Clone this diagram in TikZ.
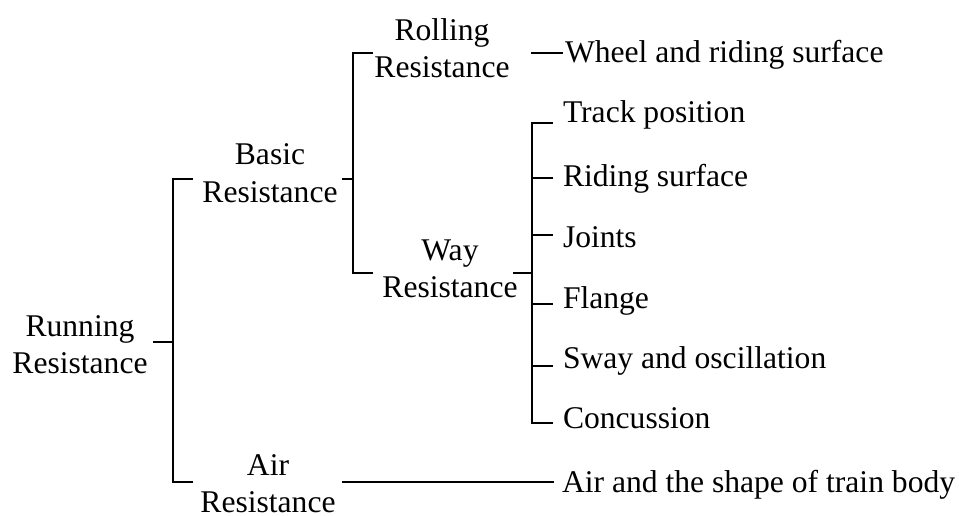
\documentclass[tikz,border=0pt]{standalone}
\usepackage{fontspec}
\setmainfont{Liberation Serif}
\begin{document}
\begin{tikzpicture}[x=1pt,y=-1pt,
  lbl/.style={inner sep=0pt, outer sep=0pt, align=center, font=\fontsize{31.6}{37}\selectfont, anchor=base},
  leaf/.style={inner sep=0pt, outer sep=0pt, font=\fontsize{31.6}{37}\selectfont, anchor=base west},
  conn/.style={line width=1.6pt, line cap=rect}]
\useasboundingbox (0,0) rectangle (959,516);
% labels (anchor base = baseline of the last line)
\node[lbl] (run) at (80,373) {Running\\Resistance};
\node[lbl] (basic) at (270,202) {Basic\\Resistance};
\node[lbl] (air) at (268,512) {Air\\Resistance};
\node[lbl] (rolling) at (442,78) {Rolling\\Resistance};
\node[lbl] (way) at (450,297) {Way\\Resistance};
\node[leaf] (wheel) at (565,63) {Wheel and riding surface};
\node[leaf] (track) at (563,123) {Track position};
\node[leaf] (riding) at (563,186) {Riding surface};
\node[leaf] (joints) at (563,247) {Joints};
\node[leaf] (flange) at (563,308) {Flange};
\node[leaf] (sway) at (563,368) {Sway and oscillation};
\node[leaf] (conc) at (563,428) {Concussion};
\node[leaf] (airbody) at (562,492) {Air and the shape of train body};
% connector points
\coordinate (runR) at (154,342);
\coordinate (b1) at (173,342);
\coordinate (b1t) at (173,179);
\coordinate (b1b) at (173,482);
\coordinate (basicL) at (192,179);
\coordinate (airL) at (192,482);
\coordinate (basicR) at (343,179);
\coordinate (b2) at (353,179);
\coordinate (b2t) at (353,53);
\coordinate (b2b) at (353,273);
\coordinate (rollL) at (372,53);
\coordinate (wayL) at (372,273);
\coordinate (rollR) at (532,53);
\coordinate (wheelL) at (562,53);
\coordinate (wayR) at (514,273);
\coordinate (b3) at (532,273);
\coordinate (b3t) at (532,123);
\coordinate (b3b) at (532,423);
\coordinate (trackL) at (552,123);
\coordinate (ridingL) at (552,178);
\coordinate (jointsL) at (552,235);
\coordinate (flangeL) at (552,304);
\coordinate (swayL) at (552,366);
\coordinate (concL) at (552,423);
\coordinate (airR) at (343,482);
\coordinate (airbodyL) at (553,482);
% connectors
\draw[conn] (runR) -- (b1);
\draw[conn] (basicL) -- (b1t) -- (b1b) -- (airL);
\draw[conn] (basicR) -- (b2);
\draw[conn] (rollL) -- (b2t) -- (b2b) -- (wayL);
\draw[conn] (rollR) -- (wheelL);
\draw[conn] (wayR) -- (b3);
\draw[conn] (trackL) -- (b3t) -- (b3b) -- (concL);
\draw[conn] (b3t |- ridingL) -- (ridingL);
\draw[conn] (b3t |- jointsL) -- (jointsL);
\draw[conn] (b3t |- flangeL) -- (flangeL);
\draw[conn] (b3t |- swayL) -- (swayL);
\draw[conn] (airR) -- (airbodyL);
\end{tikzpicture}
\end{document}
